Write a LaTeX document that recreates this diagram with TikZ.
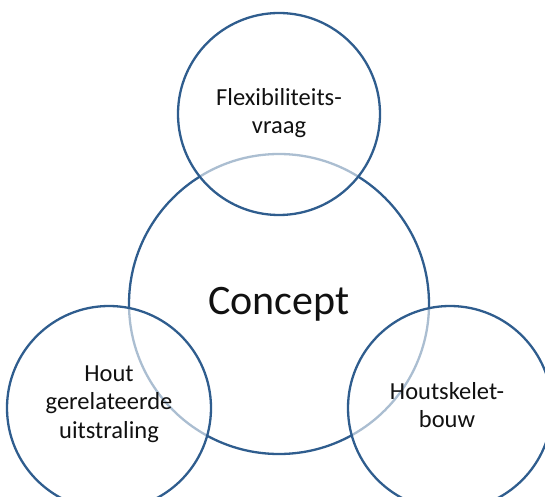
\documentclass[tikz,border=0pt]{standalone}
\usepackage{fontspec}
\setmainfont{Carlito}
\definecolor{ringblue}{HTML}{2F5D8E}
\definecolor{inktext}{HTML}{111111}
\begin{document}
\begin{tikzpicture}[x=1pt,y=1pt,
  ring/.style={circle, draw=ringblue, line width=2.3pt, inner sep=0pt},
  satellite/.style={ring, fill=white, fill opacity=0.6, minimum size=204pt},
  theme/.style={text=inktext, align=center, inner sep=0pt,
    font=\fontsize{24.5}{28.5}\selectfont}]
  \useasboundingbox (0,0) rectangle (545,496);
  \clip (0,0) rectangle (545,496);
  % central concept circle
  \node[ring, minimum size=300pt] (concept) at (279,192) {};
  \node[text=inktext, font=\fontsize{42}{50}\selectfont] (conceptlabel)
    at (concept.center) {Concept};
  % surrounding themes, drawn over the central ring
  \node[satellite, minimum size=202pt] (flex) at (279,382) {};
  \node[satellite] (hout) at (109,88) {};
  \node[satellite] (skelet) at (450,88) {};
  % theme labels
  \node[theme] (flexlabel) at ([yshift=1pt]flex.center) {Flexibiliteits-\\vraag};
  \node[theme] (houtlabel) at ([yshift=4pt]hout.center) {Hout\\gerelateerde\\uitstraling};
  \node[theme] (skeletlabel) at ([xshift=-3pt,yshift=3pt]skelet.center) {Houtskelet-\\bouw};
\end{tikzpicture}
\end{document}
